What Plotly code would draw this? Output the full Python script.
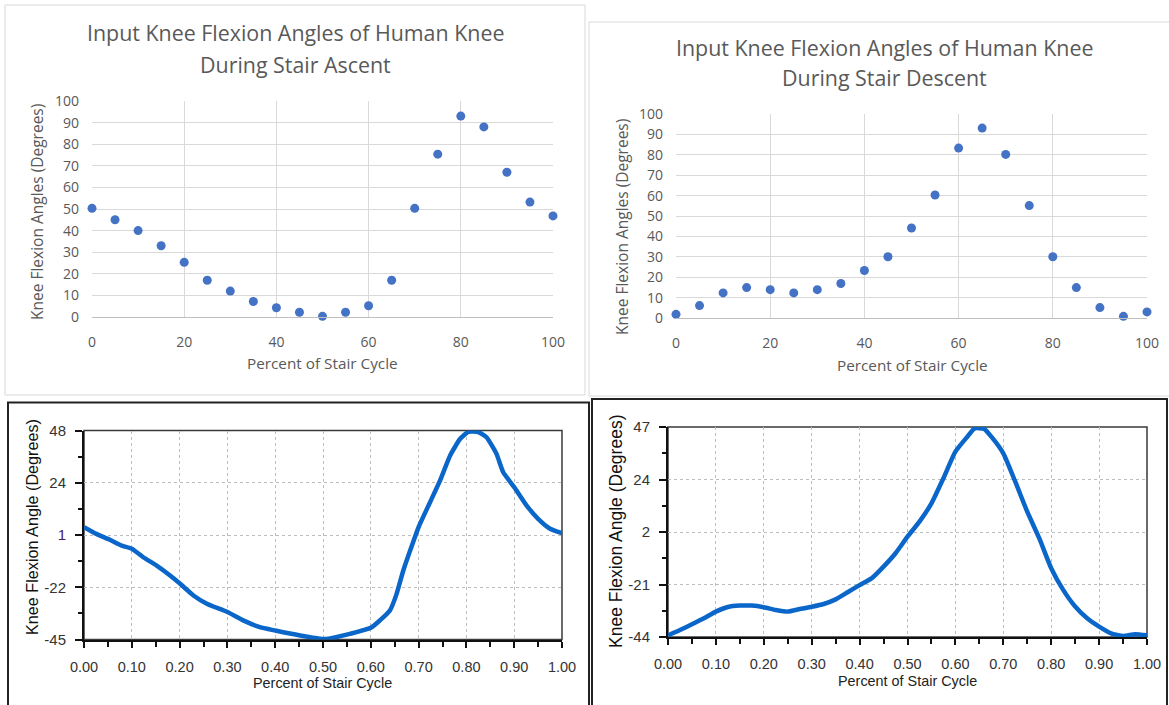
import plotly.graph_objects as go

W, H = 1169, 705

# ---------------- data ----------------
pct = [0, 5, 10, 15, 20, 25, 30, 35, 40, 45, 50, 55, 60, 65, 70, 75, 80, 85, 90, 95, 100]
ascent_deg = [50.3, 45, 40, 33, 25.3, 17, 12, 7.2, 4.3, 2.2, 0.3, 2.2, 5.2, 17, 50.3, 75.4, 93, 88, 67, 53.2, 46.8]
descent_deg = [1.8, 6.1, 12.3, 14.9, 13.9, 12.3, 13.9, 16.9, 23.3, 30, 44.1, 60.3, 83.3, 93.1, 80.2, 55.1, 30, 14.9, 5.1, 0.8, 3]

asc_cycle = [0, 0.026, 0.054, 0.079, 0.10, 0.124, 0.152, 0.18, 0.20, 0.229, 0.257, 0.30, 0.333, 0.368,
             0.40, 0.452, 0.50, 0.515, 0.556, 0.60, 0.619, 0.64, 0.654, 0.668, 0.686, 0.70, 0.724,
             0.745, 0.766, 0.787, 0.804, 0.825, 0.842, 0.863, 0.877, 0.90, 0.926, 0.95, 0.975, 1.0]
asc_angle = [5.0, 2.0, -0.6, -3.2, -4.6, -8.4, -12.1, -16.5, -20, -25.4, -29.1, -32.8, -36.5, -39.5,
             -41, -43.2, -44.8, -44.5, -42.5, -39.8, -36.5, -32.1, -24.7, -14.3, -3.2, 5.0, 16.1,
             25.8, 36.9, 44.3, 47.4, 47.3, 45, 37.6, 29.4, 22.8, 14.6, 8.7, 4.3, 2.3]

desc_cycle = [0, 0.025, 0.05, 0.075, 0.10, 0.125, 0.15, 0.175, 0.20, 0.225, 0.25, 0.275, 0.30, 0.325,
              0.35, 0.375, 0.40, 0.425, 0.45, 0.475, 0.50, 0.525, 0.55, 0.575, 0.60, 0.625, 0.64,
              0.66, 0.675, 0.70, 0.725, 0.75, 0.775, 0.80, 0.825, 0.85, 0.875, 0.90, 0.925, 0.95,
              0.975, 1.0]
desc_angle = [-43.3, -41, -38.5, -35.9, -33, -31, -30.4, -30.4, -31.1, -32.3, -33, -31.9, -30.9, -29.7,
              -27.7, -24.6, -21.5, -18.6, -13.5, -7.7, -0.5, 6, 13.9, 24.8, 36.3, 42.8, 46.4,
              46.2, 42.8, 35.6, 23.3, 10.3, -1.2, -14.2, -23.6, -30.8, -35.9, -39.5, -42.4, -43.6,
              -42.8, -43.3]

excel_yticks = [0, 10, 20, 30, 40, 50, 60, 70, 80, 90, 100]
excel_xticks = [0, 20, 40, 60, 80, 100]

bl_tickvals = [-45, -21.75, 1.5, 24.75, 48]
bl_ticktext = ["-45", "-22", "<span style='color:#4a1a6e'>1</span>", "24", "48"]
br_tickvals = [-44, -21.25, 1.5, 24.25, 47]
br_ticktext = ["-44", "-21", "2", "24", "47"]
cycle_ticks = [0, 0.1, 0.2, 0.3, 0.4, 0.5, 0.6, 0.7, 0.8, 0.9, 1.0]


def px(x):
    return x / W


def py(y):
    return 1 - y / H


EXCEL_FONT = "Open Sans"
EXCEL_TXT = "#595959"
WIN_FONT = "Liberation Sans"

fig = go.Figure()

fig.add_trace(go.Scatter(x=pct, y=ascent_deg, mode="markers", xaxis="x", yaxis="y",
                         marker=dict(size=9, color="#4472C4"), cliponaxis=False, showlegend=False))
fig.add_trace(go.Scatter(x=pct, y=descent_deg, mode="markers", xaxis="x2", yaxis="y2",
                         marker=dict(size=9, color="#4472C4"), cliponaxis=False, showlegend=False))
fig.add_trace(go.Scatter(x=asc_cycle, y=asc_angle, mode="lines", xaxis="x3", yaxis="y3",
                         line=dict(color="#0a66c8", width=4.5, shape="spline", smoothing=0.5),
                         showlegend=False))
fig.add_trace(go.Scatter(x=desc_cycle, y=desc_angle, mode="lines", xaxis="x4", yaxis="y4",
                         line=dict(color="#0a66c8", width=4.5, shape="spline", smoothing=0.5),
                         showlegend=False))


def excel_x(domain, anchor):
    return dict(domain=domain, anchor=anchor, range=[0, 100], tickvals=excel_xticks,
                showgrid=True, gridcolor="#D9D9D9", gridwidth=1, zeroline=False,
                showline=True, linecolor="#BFBFBF", linewidth=1, ticks="",
                tickfont=dict(family=EXCEL_FONT, size=14, color=EXCEL_TXT),
                ticklabelstandoff=12, fixedrange=True, automargin=False)


def excel_y(domain, anchor):
    return dict(domain=domain, anchor=anchor, range=[0, 100], tickvals=excel_yticks,
                showgrid=True, gridcolor="#D9D9D9", gridwidth=1, zeroline=False,
                showline=False, ticks="",
                tickfont=dict(family=EXCEL_FONT, size=14, color=EXCEL_TXT),
                ticklabelstandoff=12, fixedrange=True, automargin=False)


def win_x(domain, anchor):
    return dict(domain=domain, anchor=anchor, range=[0, 1], tickvals=cycle_ticks,
                tickformat=".2f", showgrid=True, gridcolor="#BDBDBD", griddash="dot",
                gridwidth=1, zeroline=False, showline=True, linecolor="#111111", linewidth=2,
                ticks="outside", ticklen=6, tickcolor="#111111", tickwidth=1.5,
                minor=dict(dtick=0.05, tick0=0, ticks="outside", ticklen=5,
                           tickcolor="#111111", tickwidth=1.5, showgrid=False),
                tickfont=dict(family=WIN_FONT, size=14.5, color="#333333"),
                ticklabelstandoff=7, fixedrange=True, automargin=False)


def win_y(domain, anchor, tv, tt):
    mids = [(tv[i] + tv[i + 1]) / 2 for i in range(len(tv) - 1)]
    return dict(domain=domain, anchor=anchor, range=[tv[0], tv[-1]], tickvals=tv, ticktext=tt,
                showgrid=True, gridcolor="#BDBDBD", griddash="dot", gridwidth=1,
                zeroline=False, showline=True, linecolor="#111111", linewidth=2,
                ticks="outside", ticklen=7, tickcolor="#111111", tickwidth=1.5,
                minor=dict(tickvals=mids, ticks="outside", ticklen=4, tickcolor="#111111",
                           tickwidth=1.5, showgrid=False),
                tickfont=dict(family=WIN_FONT, size=15, color="#333333"),
                ticklabelstandoff=6, fixedrange=True, automargin=False)


fig.update_layout(
    width=W, height=H, margin=dict(l=0, r=0, t=0, b=0, autoexpand=False),
    paper_bgcolor="white", plot_bgcolor="white", showlegend=False,
    xaxis=excel_x([px(92), px(553)], "y"),
    yaxis=excel_y([py(317), py(101)], "x"),
    xaxis2=excel_x([px(676), px(1147)], "y2"),
    yaxis2=excel_y([py(318), py(114)], "x2"),
    xaxis3=win_x([px(84), px(562)], "y3"),
    yaxis3=win_y([py(639.5), py(430.5)], "x3", bl_tickvals, bl_ticktext),
    xaxis4=win_x([px(668), px(1147)], "y4"),
    yaxis4=win_y([py(637), py(427)], "x4", br_tickvals, br_ticktext),
)

shapes = []
shapes.append(dict(type="rect", xref="paper", yref="paper", x0=px(5), x1=px(585), y0=py(395), y1=py(5),
                   line=dict(color="#D9D9D9", width=1), layer="below"))
shapes.append(dict(type="rect", xref="paper", yref="paper", x0=px(589), x1=px(1175), y0=py(396), y1=py(22),
                   line=dict(color="#D9D9D9", width=1), layer="below"))
shapes.append(dict(type="rect", xref="paper", yref="paper", x0=px(8), x1=px(589), y0=py(712), y1=py(402.5),
                   line=dict(color="#222222", width=2), layer="below"))
shapes.append(dict(type="rect", xref="paper", yref="paper", x0=px(592), x1=px(1167), y0=py(712), y1=py(399),
                   line=dict(color="#222222", width=2), layer="below"))
for xr, yr in (("x3", "y3"), ("x4", "y4")):
    shapes.append(dict(type="rect", xref=f"{xr} domain", yref=f"{yr} domain", x0=0, x1=1, y0=0, y1=1,
                       line=dict(color="#3a3a3a", width=1.5), layer="below"))
fig.update_layout(shapes=shapes)

ann = []


def add_text(text, x, y, size, color, family, angle=0):
    ann.append(dict(text=text, x=px(x), y=py(y), xref="paper", yref="paper", showarrow=False,
                    xanchor="center", yanchor="middle", textangle=angle,
                    font=dict(family=family, size=size, color=color)))


add_text("Input Knee Flexion Angles of Human Knee", 295, 33, 21.4, EXCEL_TXT, EXCEL_FONT)
add_text("During Stair Ascent", 295, 64, 21.4, EXCEL_TXT, EXCEL_FONT)
add_text("Input Knee Flexion Angles of Human Knee", 884, 47.5, 21.4, EXCEL_TXT, EXCEL_FONT)
add_text("During Stair Descent", 884, 78, 21.4, EXCEL_TXT, EXCEL_FONT)
add_text("Knee Flexion Angles (Degrees)", 37, 212, 15.5, EXCEL_TXT, EXCEL_FONT, -90)
add_text("Knee Flexion Angles (Degrees)", 622, 227, 15.5, EXCEL_TXT, EXCEL_FONT, -90)
add_text("Percent of Stair Cycle", 322.5, 363, 15.3, EXCEL_TXT, EXCEL_FONT)
add_text("Percent of Stair Cycle", 912, 365, 15.3, EXCEL_TXT, EXCEL_FONT)
add_text("Knee Flexion Angle (Degrees)", 32, 527, 16.2, "#111111", WIN_FONT, -90)
add_text("Knee Flexion Angle (Degrees)", 616, 532, 17.5, "#111111", WIN_FONT, -90)
add_text("Percent of Stair Cycle", 322, 683, 14.4, "#222222", WIN_FONT)
add_text("Percent of Stair Cycle", 907, 681, 14.4, "#222222", WIN_FONT)
fig.update_layout(annotations=ann)

fig.write_html("out.html")
